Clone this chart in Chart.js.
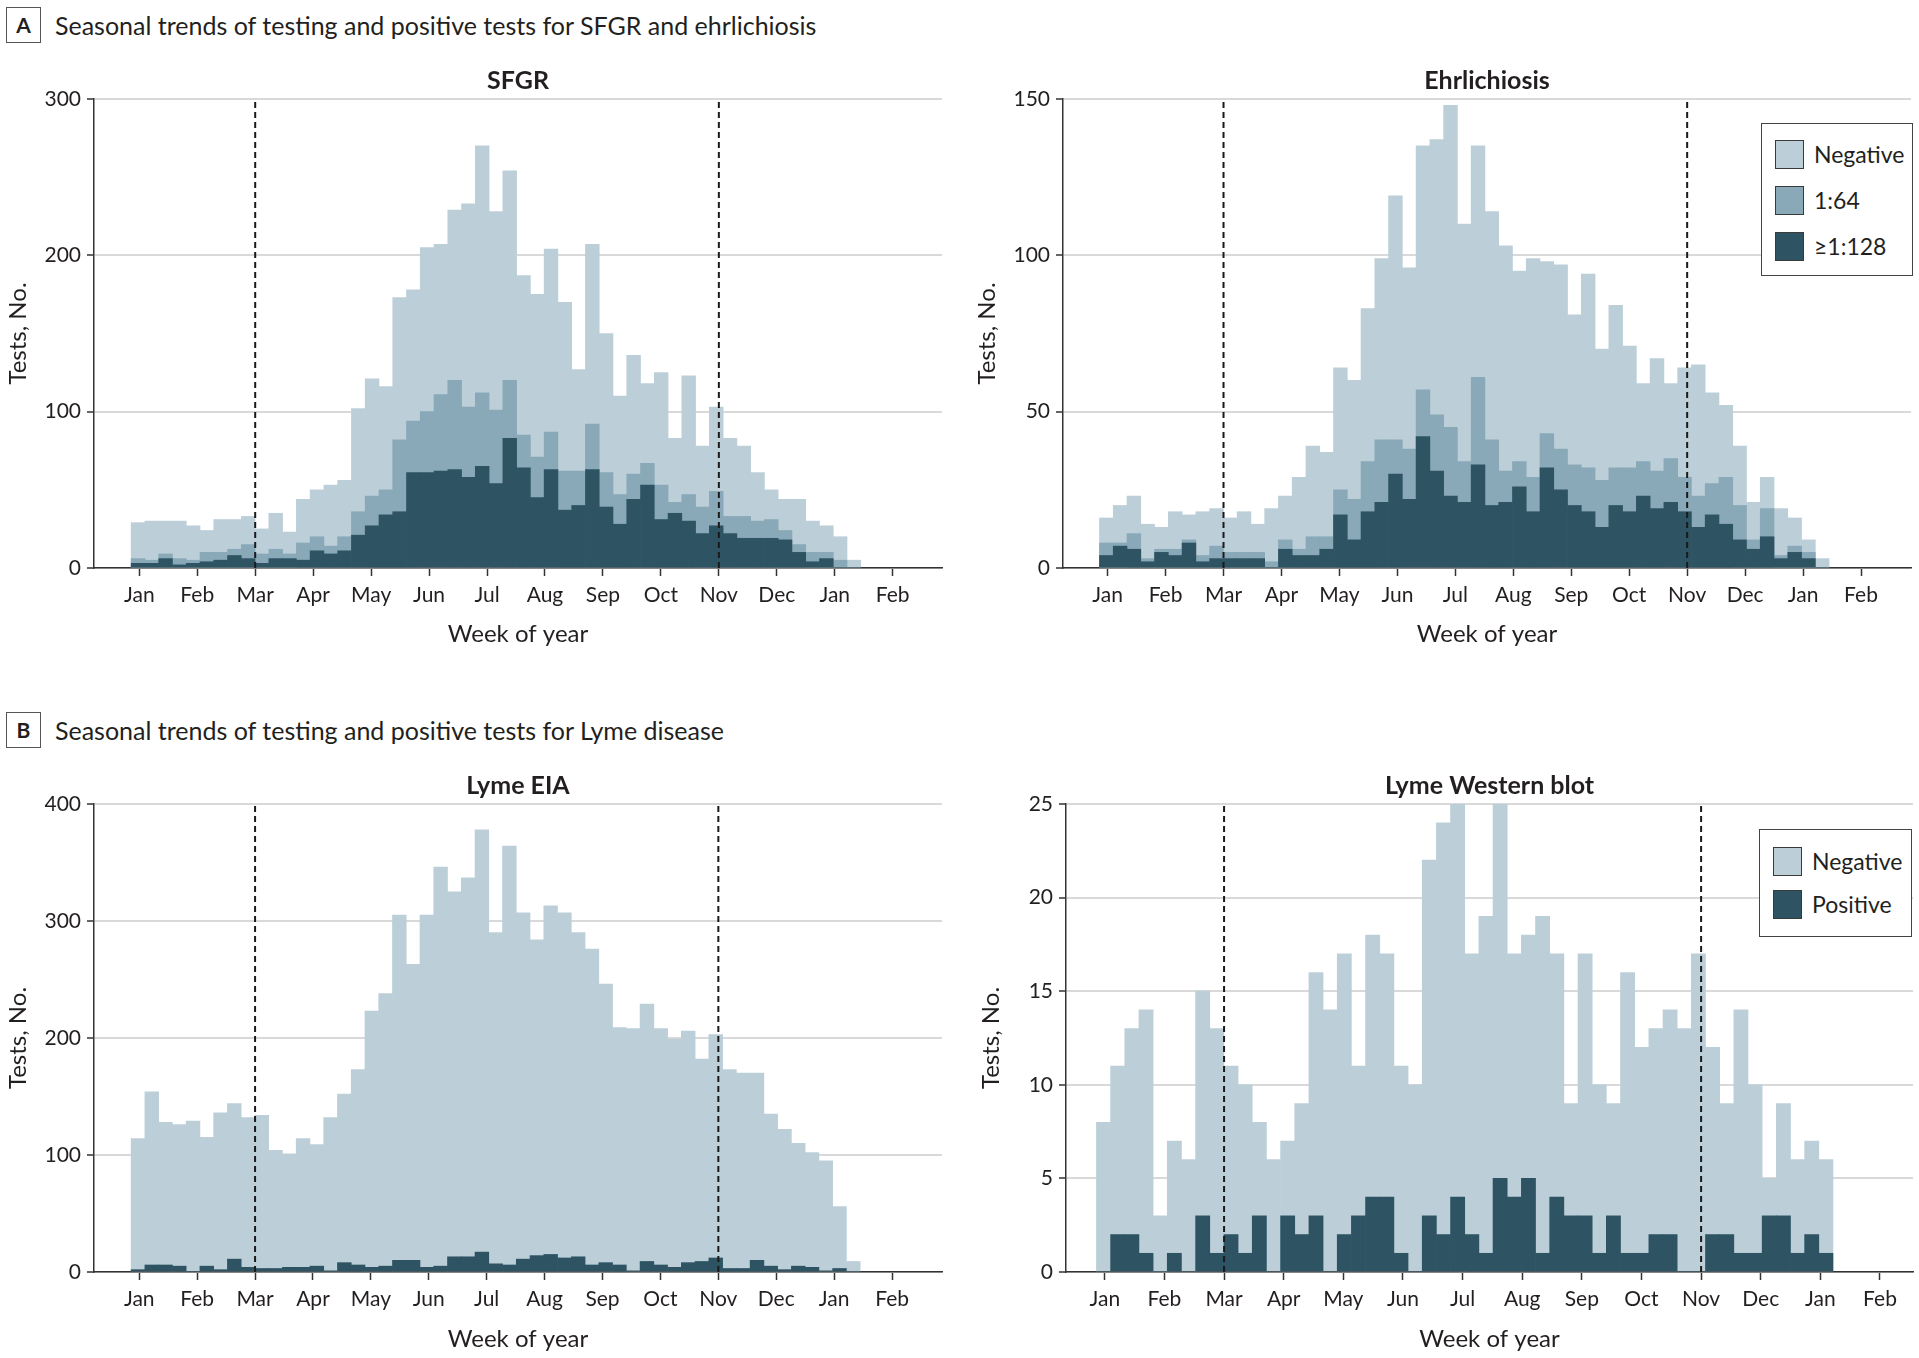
<!DOCTYPE html>
<html lang="en">
<head>
    <meta charset="UTF-8">
    <title>Seasonal trends of testing and positive tests</title>
    <script src="https://cdn.jsdelivr.net/npm/chart.js"></script>
    <style>
        body {
            margin: 0;
            background: #fff;
        }
        .page {
            position: relative;
            width: 1919px;
            height: 1358px;
            font-family: Lato, "Liberation Sans", sans-serif;
            color: #231f20;
            overflow: hidden;
        }
        .page canvas {
            position: absolute;
        }
        .tag {
            position: absolute;
            left: 6px;
            width: 35px;
            height: 36px;
            box-sizing: border-box;
            border: 1.5px solid #555;
            font-weight: bold;
            font-size: 21px;
            line-height: 33px;
            text-align: center;
        }
        .heading {
            position: absolute;
            left: 55px;
            height: 36px;
            line-height: 36px;
            font-size: 25px;
            white-space: nowrap;
        }
        .legend {
            position: absolute;
            box-sizing: border-box;
            border: 1.5px solid #444;
            background: #fff;
        }
        .legend .item {
            position: absolute;
            height: 29px;
            line-height: 29px;
            font-size: 23px;
            white-space: nowrap;
        }
        .legend .swatch {
            position: absolute;
            top: 0;
            width: 29px;
            height: 29px;
            box-sizing: border-box;
            border: 1.5px solid #3a3a3a;
        }
    </style>
</head>
<body>
<div class="page">
    <div class="tag" style="top:7px">A</div>
    <div class="heading" style="top:7px">Seasonal trends of testing and positive tests for SFGR and ehrlichiosis</div>
    <div class="tag" style="top:712px">B</div>
    <div class="heading" style="top:712px">Seasonal trends of testing and positive tests for Lyme disease</div>

    <canvas id="sfgr" width="960" height="610" style="left:0px; top:50px"></canvas>
    <canvas id="ehr" width="949" height="610" style="left:970px; top:50px"></canvas>
    <canvas id="eia" width="960" height="603" style="left:0px; top:755px"></canvas>
    <canvas id="wb" width="949" height="603" style="left:970px; top:755px"></canvas>

    <div class="legend" id="ehrLegend" style="left:1761px; top:123px; width:152px; height:153px"></div>
    <div class="legend" id="wbLegend" style="left:1759px; top:829px; width:153px; height:108px"></div>
</div>

<script>
    const FONT = 'Lato, "Liberation Sans", sans-serif';
    const TEXT = '#231f20';
    const NEG_COLOR = '#bccfd9';
    const MID_COLOR = '#89a9b8';
    const DARK_COLOR = '#2e5463';

    // week of year, one bar per week
    const weeks = [1, 2, 3, 4, 5, 6, 7, 8, 9, 10, 11, 12, 13, 14, 15, 16, 17, 18, 19, 20,
        21, 22, 23, 24, 25, 26, 27, 28, 29, 30, 31, 32, 33, 34, 35, 36, 37, 38, 39, 40,
        41, 42, 43, 44, 45, 46, 47, 48, 49, 50, 51, 52, 53];
    const monthLabels = ['Jan', 'Feb', 'Mar', 'Apr', 'May', 'Jun', 'Jul', 'Aug', 'Sep', 'Oct', 'Nov', 'Dec', 'Jan', 'Feb'];

    // SFGR: all tests, tests with titer >= 1:64, tests with titer >= 1:128
    const sfgrAll = [29, 30, 30, 30, 27, 24, 31, 31, 33, 25, 35, 23, 44, 50, 53, 56, 102, 121, 116, 173,
        178, 205, 207, 229, 233, 270, 228, 254, 187, 175, 204, 170, 127, 207, 150, 110, 136, 118, 125, 83,
        123, 78, 103, 83, 78, 61, 50, 44, 44, 30, 27, 20, 5];
    const sfgr64 = [6, 5, 9, 6, 5, 10, 10, 12, 15, 9, 12, 9, 16, 20, 14, 20, 36, 46, 50, 82,
        94, 100, 111, 120, 103, 112, 101, 120, 85, 71, 87, 62, 62, 92, 61, 47, 60, 67, 53, 42,
        47, 39, 49, 33, 33, 30, 31, 24, 15, 10, 10, 5, 0];
    const sfgr128 = [3, 3, 6, 2, 3, 4, 5, 8, 6, 3, 6, 6, 5, 11, 9, 11, 21, 27, 34, 36,
        61, 61, 62, 63, 58, 65, 54, 83, 64, 45, 63, 37, 40, 63, 39, 28, 44, 53, 31, 35,
        30, 22, 27, 22, 19, 19, 19, 18, 10, 4, 6, 0, 0];

    // Ehrlichiosis
    const ehrAll = [16, 20, 23, 14, 13, 18, 17, 18, 19, 16, 18, 14, 19, 23, 29, 39, 37, 64, 60, 83,
        99, 119, 96, 135, 137, 148, 110, 135, 114, 103, 95, 99, 98, 97, 81, 94, 70, 84, 71, 59,
        67, 59, 64, 65, 56, 52, 39, 21, 29, 19, 16, 9, 3];
    const ehr64 = [8, 8, 11, 3, 6, 6, 9, 4, 7, 5, 5, 5, 2, 9, 6, 10, 10, 25, 22, 34,
        41, 41, 38, 57, 49, 45, 34, 61, 41, 31, 34, 29, 43, 38, 33, 32, 28, 32, 32, 34,
        31, 35, 29, 23, 27, 29, 20, 9, 19, 4, 7, 5, 0];
    const ehr128 = [4, 7, 6, 2, 5, 4, 8, 2, 3, 3, 3, 3, 0, 6, 4, 4, 6, 17, 9, 18,
        21, 30, 22, 42, 31, 23, 21, 33, 20, 21, 26, 18, 32, 25, 20, 18, 13, 20, 18, 23,
        19, 21, 18, 13, 17, 14, 9, 6, 10, 3, 5, 3, 0];

    // Lyme EIA: all tests and positive tests
    const eiaAll = [114, 154, 128, 126, 129, 115, 136, 144, 132, 134, 104, 101, 114, 109, 132, 152, 173, 223, 238, 305,
        263, 305, 346, 325, 337, 378, 290, 364, 307, 284, 313, 307, 290, 276, 246, 209, 208, 229, 208, 199,
        206, 182, 203, 173, 170, 170, 135, 122, 110, 102, 95, 56, 9];
    const eiaPos = [2, 6, 6, 5, 0, 5, 2, 11, 4, 3, 3, 4, 4, 5, 1, 8, 6, 4, 5, 10,
        10, 4, 5, 13, 13, 17, 7, 6, 11, 14, 15, 12, 13, 6, 8, 6, 1, 9, 6, 4,
        8, 9, 12, 3, 3, 10, 5, 2, 5, 4, 1, 3, 0];

    // Lyme Western blot
    const wbAll = [8, 11, 13, 14, 3, 7, 6, 15, 13, 11, 10, 8, 6, 7, 9, 16, 14, 17, 11, 18,
        17, 11, 10, 22, 24, 25, 17, 19, 25, 17, 18, 19, 17, 9, 17, 10, 9, 16, 12, 13,
        14, 13, 17, 12, 9, 14, 10, 5, 9, 6, 7, 6];
    const wbPos = [0, 2, 2, 1, 0, 1, 0, 3, 1, 2, 1, 3, 0, 3, 2, 3, 0, 2, 3, 4,
        4, 1, 0, 3, 2, 4, 2, 1, 5, 4, 5, 1, 4, 3, 3, 1, 3, 1, 1, 2,
        2, 0, 0, 2, 2, 1, 1, 3, 3, 1, 2, 1];

    // month ticks sit on the week axis
    const monthTicks = monthLabels.map((m, i) => 1.09 + 4.21 * i);

    // title above the plot, centred on the chart area
    const panelTitle = {
        id: 'panelTitle',
        afterDraw(chart, args, opts) {
            const { ctx, chartArea } = chart;
            ctx.save();
            ctx.font = 'bold 25px ' + FONT;
            ctx.fillStyle = TEXT;
            ctx.textAlign = 'center';
            ctx.textBaseline = 'middle';
            ctx.fillText(opts.text, (chartArea.left + chartArea.right) / 2, chartArea.top - 18);
            ctx.restore();
        }
    };

    function dashedLine(x, yMax) {
        return {
            type: 'line',
            data: [{ x: x, y: 0 }, { x: x, y: yMax }],
            borderColor: '#1a1a1a',
            borderWidth: 2,
            borderDash: [6, 4],
            pointRadius: 0,
            fill: false,
            order: 0
        };
    }

    function buildPanel(id, p) {
        const datasets = [dashedLine(monthTicks[2], p.yMax), dashedLine(monthTicks[10], p.yMax)];
        p.series.forEach((s, i) => {
            datasets.push({
                label: s.label,
                data: s.values.map((v, j) => ({ x: weeks[j], y: v })),
                backgroundColor: s.color,
                borderWidth: 0,
                barPercentage: 1,
                categoryPercentage: 1,
                grouped: false,
                order: p.series.length - i
            });
        });

        new Chart(document.getElementById(id), {
            type: 'bar',
            data: { datasets: datasets },
            plugins: [panelTitle],
            options: {
                responsive: false,
                animation: false,
                events: [],
                layout: { padding: { top: 49, right: p.padRight, left: 0, bottom: 0 } },
                plugins: {
                    legend: { display: false },
                    tooltip: { enabled: false },
                    panelTitle: { text: p.title }
                },
                scales: {
                    x: {
                        type: 'linear',
                        min: p.xMin,
                        max: p.xMax,
                        offset: false,
                        afterBuildTicks: scale => {
                            scale.ticks = monthTicks.map(v => ({ value: v }));
                        },
                        afterFit: scale => {
                            scale.height = p.xHeight;
                        },
                        ticks: {
                            autoSkip: false,
                            maxRotation: 0,
                            padding: 7,
                            color: TEXT,
                            font: { family: FONT, size: 21 },
                            callback: (value, index) => monthLabels[index]
                        },
                        grid: {
                            offset: false,
                            drawOnChartArea: false,
                            tickLength: 8,
                            tickColor: '#333',
                            tickWidth: 1.5
                        },
                        border: { color: '#333', width: 1.5 },
                        title: {
                            display: true,
                            text: 'Week of year',
                            color: TEXT,
                            font: { family: FONT, size: 24 },
                            padding: { top: 0, bottom: p.xTitlePad }
                        }
                    },
                    y: {
                        min: 0,
                        max: p.yMax,
                        afterFit: scale => {
                            scale.width = p.yWidth;
                        },
                        ticks: {
                            stepSize: p.yStep,
                            padding: 6,
                            color: TEXT,
                            font: { family: FONT, size: 21 }
                        },
                        grid: {
                            color: '#d9d9d9',
                            lineWidth: 2,
                            tickLength: 7,
                            tickColor: '#333',
                            tickWidth: 1.5
                        },
                        border: { color: '#333', width: 1.5 },
                        title: {
                            display: true,
                            text: 'Tests, No.',
                            color: TEXT,
                            font: { family: FONT, size: 24 },
                            padding: { top: p.yTitlePad, bottom: 0 }
                        }
                    }
                }
            }
        });
    }

    function buildLegend(id, items, tops) {
        const box = document.getElementById(id);
        items.forEach((it, i) => {
            const row = document.createElement('div');
            row.className = 'item';
            row.style.top = tops[i] + 'px';
            row.style.left = '13px';
            row.innerHTML = '<span class="swatch" style="left:0; background:' + it.color + '"></span>' +
                '<span style="position:absolute; left:39px">' + it.label + '</span>';
            box.appendChild(row);
        });
    }

    const titerSeries = (all, s64, s128) => [
        { label: 'Negative', values: all, color: NEG_COLOR },
        { label: '1:64', values: s64, color: MID_COLOR },
        { label: '\u22651:128', values: s128, color: DARK_COLOR }
    ];

    buildPanel('sfgr', {
        title: 'SFGR', yMax: 300, yStep: 100, xMin: -2.2, xMax: 59.4,
        yWidth: 94, padRight: 18, xHeight: 92, xTitlePad: 11.5, yTitlePad: 4,
        series: titerSeries(sfgrAll, sfgr64, sfgr128)
    });
    buildPanel('ehr', {
        title: 'Ehrlichiosis', yMax: 150, yStep: 50, xMin: -2.15, xMax: 59.45,
        yWidth: 93, padRight: 8, xHeight: 92, xTitlePad: 11.5, yTitlePad: 3.3,
        series: titerSeries(ehrAll, ehr64, ehr128)
    });
    buildPanel('eia', {
        title: 'Lyme EIA', yMax: 400, yStep: 100, xMin: -2.2, xMax: 59.45,
        yWidth: 94, padRight: 18, xHeight: 86, xTitlePad: 4.5, yTitlePad: 4,
        series: [
            { label: 'Negative', values: eiaAll, color: NEG_COLOR },
            { label: 'Positive', values: eiaPos, color: DARK_COLOR }
        ]
    });
    buildPanel('wb', {
        title: 'Lyme Western blot', yMax: 25, yStep: 5, xMin: -1.65, xMax: 58.15,
        yWidth: 96, padRight: 6, xHeight: 86, xTitlePad: 4.5, yTitlePad: 7,
        series: [
            { label: 'Negative', values: wbAll, color: NEG_COLOR },
            { label: 'Positive', values: wbPos, color: DARK_COLOR }
        ]
    });

    buildLegend('ehrLegend', [
        { label: 'Negative', color: NEG_COLOR },
        { label: '1:64', color: MID_COLOR },
        { label: '\u22651:128', color: DARK_COLOR }
    ], [16, 62, 108]);
    buildLegend('wbLegend', [
        { label: 'Negative', color: NEG_COLOR },
        { label: 'Positive', color: DARK_COLOR }
    ], [17, 60]);
</script>
</body>
</html>
